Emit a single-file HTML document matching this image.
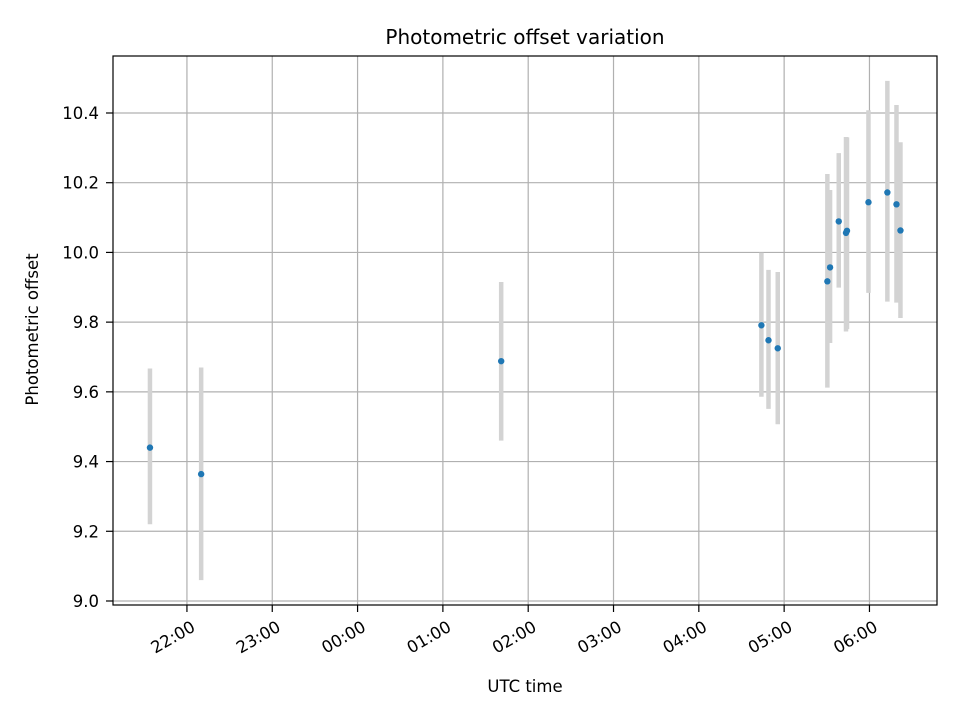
<!DOCTYPE html>
<html><head><meta charset="utf-8"><style>
body{margin:0;background:#fff}
svg{font-family:"DejaVu Sans","Liberation Sans",sans-serif}
</style></head><body>
<svg id="c" width="960" height="720" xmlns="http://www.w3.org/2000/svg"></svg>
<script>
// minutes relative to 22:00 UTC
const times=[-26,10,221,404,409,415.5,450.4,452.3,458.4,463.5,464.2,479.3,492.6,499,501.8];
const values=[9.44,9.364,9.688,9.791,9.748,9.725,9.917,9.957,10.089,10.056,10.062,10.144,10.172,10.138,10.063];
const errLow=[9.22,9.06,9.46,9.586,9.551,9.507,9.612,9.74,9.899,9.773,9.78,9.884,9.859,9.856,9.812];
const errHigh=[9.667,9.67,9.915,9.999,9.95,9.944,10.225,10.179,10.285,10.331,10.33,10.408,10.492,10.423,10.316];
const xTickLabels=["22:00","23:00","00:00","01:00","02:00","03:00","04:00","05:00","06:00"];
const yTicks=[9.0,9.2,9.4,9.6,9.8,10.0,10.2,10.4];

const NS="http://www.w3.org/2000/svg";
const svg=document.getElementById('c');
const L=113,R=937,T=56,B=605;
const xMin=-52,xMax=527.5;
const yMin=8.9885,yMax=10.5635;
const xs=m=>L+(m-xMin)/(xMax-xMin)*(R-L);
const ys=v=>B-(v-yMin)/(yMax-yMin)*(B-T);
function el(tag,attrs,parent){const e=document.createElementNS(NS,tag);for(const k in attrs)e.setAttribute(k,attrs[k]);(parent||svg).appendChild(e);return e;}

const grid=el('g',{});


xTickLabels.forEach((lab,i)=>{
  const x=xs(i*60);
  const g=el('line',{x1:x,x2:x,y1:T,y2:B,stroke:'#b0b0b0','stroke-width':1.2},grid);
  
  
  const tk=el('line',{x1:x,x2:x,y1:B,y2:B+7,stroke:'#000','stroke-width':1.2});
  
  
  const t=el('text',{x:0,y:0,'font-size':16.5,'text-anchor':'end',transform:`translate(${x+3},${B+14}) rotate(-30)`,dy:'0.78em'});
  t.textContent=lab;
  
  
});
yTicks.forEach(v=>{
  const y=ys(v);
  const g=el('line',{x1:L,x2:R,y1:y,y2:y,stroke:'#b0b0b0','stroke-width':1.2},grid);
  
  
  const tk=el('line',{x1:L-7,x2:L,y1:y,y2:y,stroke:'#000','stroke-width':1.2});
  
  
  const t=el('text',{x:L-14,y:y+6,'font-size':16.5,'text-anchor':'end'});
  t.textContent=v.toFixed(1);
  
  
});
const series=el('g',{});


times.forEach((m,i)=>{
  const x=xs(m);
  const e=el('line',{x1:x,x2:x,y1:ys(errLow[i]),y2:ys(errHigh[i]),stroke:'#d3d3d3','stroke-width':4.5},series);
  
  
});
times.forEach((m,i)=>{
  const p=el('circle',{cx:xs(m),cy:ys(values[i]),r:3.2,fill:'#1f77b4'},series);
  
  
});
const frame=el('rect',{x:L,y:T,width:R-L,height:B-T,fill:'none',stroke:'#000','stroke-width':1.2});


const title=el('text',{x:(L+R)/2,y:44,'font-size':20,'text-anchor':'middle'});
title.textContent='Photometric offset variation';


const xl=el('text',{x:(L+R)/2,y:692,'font-size':16.5,'text-anchor':'middle'});
xl.textContent='UTC time';


const yl=el('text',{x:0,y:0,'font-size':16.5,'text-anchor':'middle',transform:`translate(38,${(T+B)/2-1}) rotate(-90)`});
yl.textContent='Photometric offset';


</script>
</body></html>
